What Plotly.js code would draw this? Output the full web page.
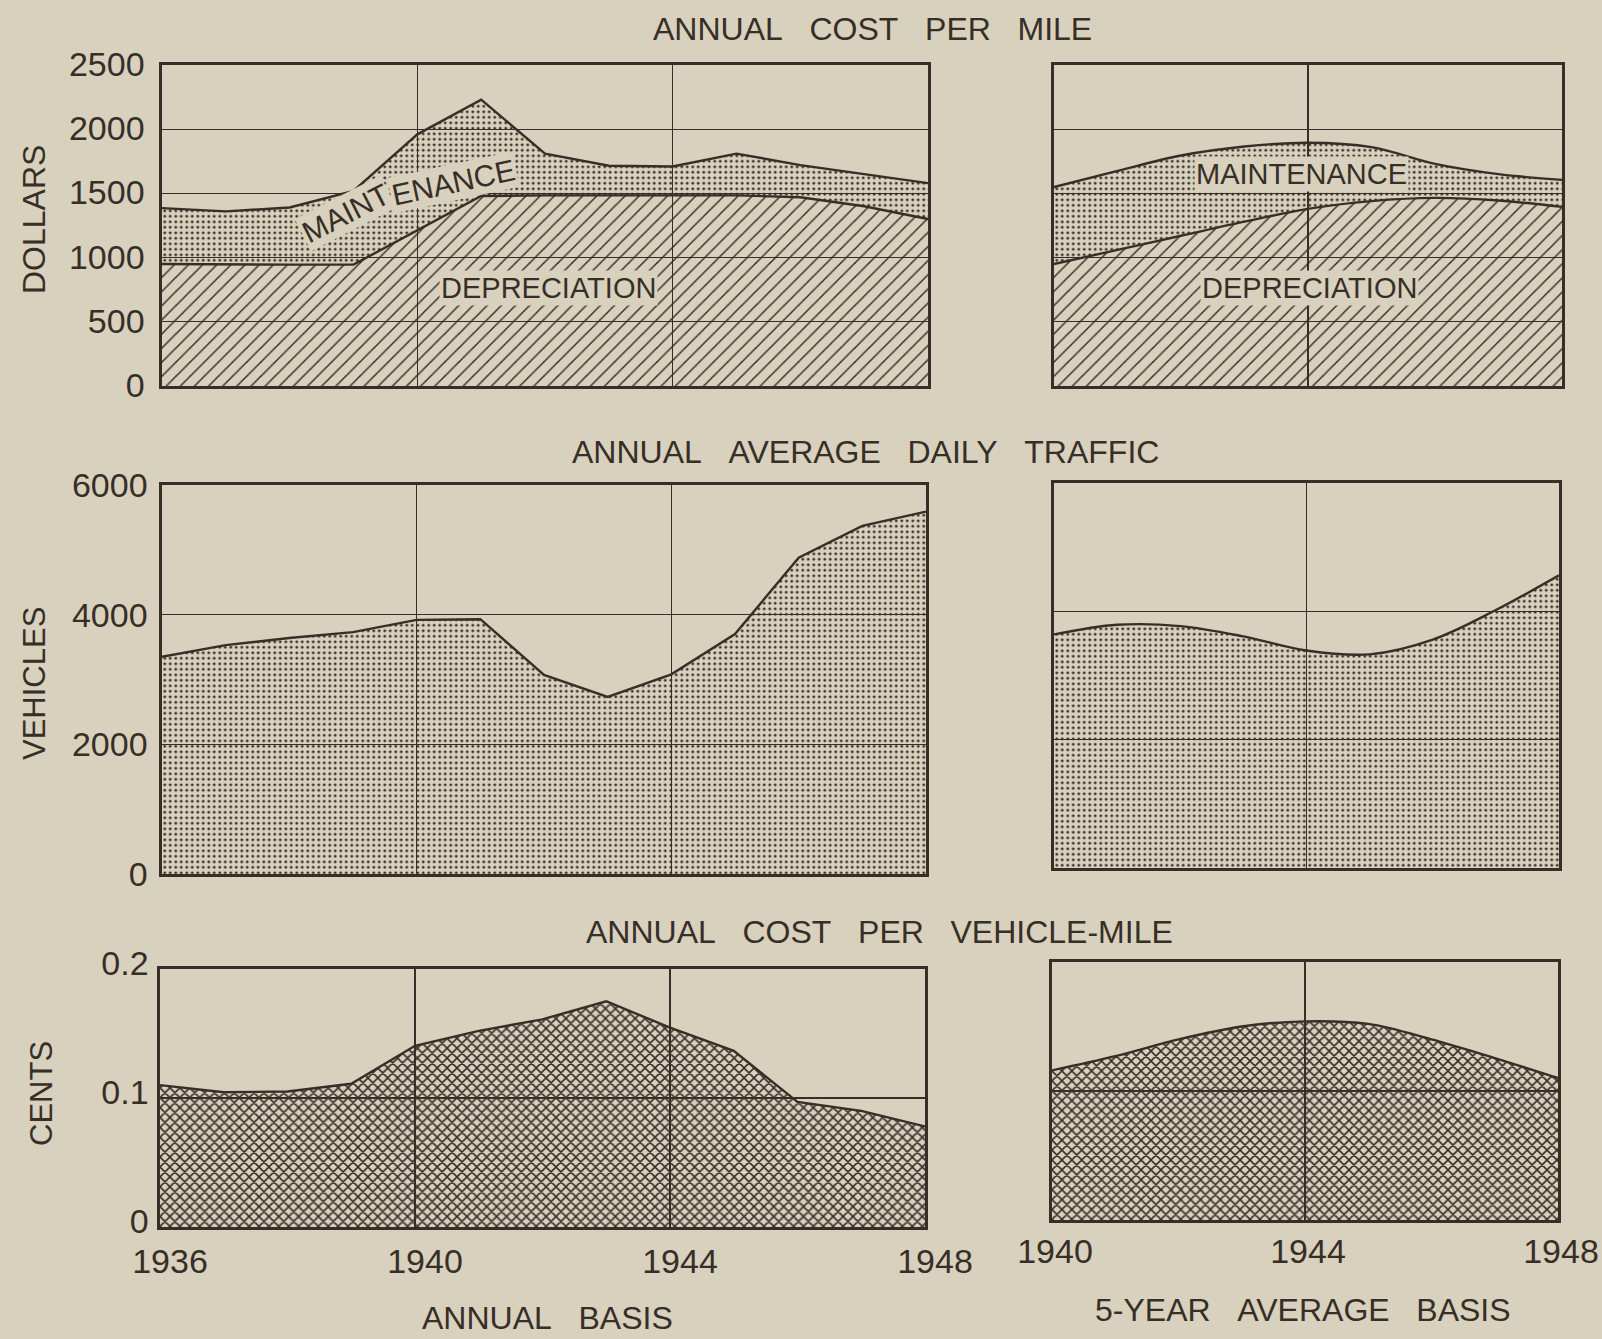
<!DOCTYPE html>
<html>
<head>
<meta charset="utf-8">
<script src="https://cdn.plot.ly/plotly-3.0.1.min.js"></script>
<style>
  html, body { margin: 0; padding: 0; background: #d8d1bd; }
  #chart { width: 1602px; height: 1339px; }
</style>
</head>
<body>
<div id="chart"></div>
<script>
// ---------- DATA ----------
const yearsAnnual = [1936, 1937, 1938, 1939, 1940, 1941, 1942, 1943, 1944, 1945, 1946, 1947, 1948];
const years5yr = [1940, 1941, 1942, 1943, 1944, 1945, 1946, 1947, 1948];

// Annual cost per mile (dollars), annual basis
const depreciationAnnual = [950, 945, 945, 945, 1210, 1480, 1485, 1485, 1485, 1485, 1470, 1400, 1300];
const maintenanceAnnual  = [435, 415, 445, 575, 750, 750, 325, 230, 225, 325, 250, 250, 280];

// Annual cost per mile (dollars), 5-year average basis
const depreciation5yr = [950, 1060, 1170, 1280, 1380, 1440, 1465, 1445, 1395];
const maintenance5yr  = [600, 615, 625, 585, 515, 420, 265, 205, 210];

// Annual average daily traffic (vehicles)
const trafficAnnual = [3350, 3530, 3640, 3730, 3920, 3930, 3070, 2730, 3080, 3700, 4880, 5370, 5590];
const traffic5yr    = [3640, 3790, 3770, 3610, 3390, 3330, 3560, 4020, 4560];

// Annual cost per vehicle-mile (cents)
const costVehMileAnnual = [0.110, 0.1045, 0.105, 0.111, 0.1405, 0.152, 0.161, 0.175, 0.1545, 0.1365, 0.097, 0.090, 0.078];
const costVehMile5yr    = [0.116, 0.127, 0.140, 0.150, 0.154, 0.152, 0.140, 0.1255, 0.110];

// Tick values / labels
const xTicksAnnual = [1936, 1940, 1944, 1948];
const xTicks5yr = [1940, 1944, 1948];
const dollarTicks = [0, 500, 1000, 1500, 2000, 2500];
const dollarLabels = ['0', '500', '1000', '1500', '2000', '2500'];
const vehicleTicks = [0, 2000, 4000, 6000];
const vehicleLabels = ['0', '2000', '4000', '6000'];
const centTicks = [0, 0.1, 0.2];
const centLabels = ['0', '0.1', '0.2'];

// ---------- STYLE ----------
const INK = '#372f27';
const BG = '#d8d1bd';
const FONT = 'Liberation Sans, Arial, sans-serif';
const NB = '\u00A0\u00A0\u00A0';

const hatch = {shape: '/', size: 10, solidity: 0.15, fgcolor: INK, bgcolor: 'rgba(0,0,0,0)'};
const dots  = {shape: '.', size: 5.5, solidity: 0.22, fgcolor: INK, bgcolor: 'rgba(0,0,0,0)'};
const cross = {shape: 'x', size: 7, solidity: 0.4, fgcolor: INK, bgcolor: 'rgba(0,0,0,0)'};
const lineStyle = {color: INK, width: 2.4};
const splineStyle = {color: INK, width: 2.4, shape: 'spline', smoothing: 1};

function tr(x, y, xa, ya, pattern, line, stack) {
  const t = {
    x: x, y: y, xaxis: xa, yaxis: ya, type: 'scatter', mode: 'lines',
    line: line, fillcolor: 'rgba(0,0,0,0)', fillpattern: pattern,
    hoverinfo: 'skip', showlegend: false
  };
  if (stack) { t.stackgroup = stack; } else { t.fill = 'tozeroy'; }
  return t;
}

const data = [
  tr(yearsAnnual, depreciationAnnual, 'x', 'y', hatch, lineStyle, 'a'),
  tr(yearsAnnual, maintenanceAnnual, 'x', 'y', dots, lineStyle, 'a'),
  tr(years5yr, depreciation5yr, 'x2', 'y2', hatch, splineStyle, 'b'),
  tr(years5yr, maintenance5yr, 'x2', 'y2', dots, splineStyle, 'b'),
  tr(yearsAnnual, trafficAnnual, 'x3', 'y3', dots, lineStyle, null),
  tr(years5yr, traffic5yr, 'x4', 'y4', dots, splineStyle, null),
  tr(yearsAnnual, costVehMileAnnual, 'x5', 'y5', cross, lineStyle, null),
  tr(years5yr, costVehMile5yr, 'x6', 'y6', cross, splineStyle, null)
];

const W = 1602, H = 1339;
function dx(a, b) { return [a / W, b / W]; }
function dy(top, bottom) { return [1 - bottom / H, 1 - top / H]; }

function xAxis(domain, range, ticks, anchor, showLabels, shift, standoff) {
  return {
    domain: domain, range: range, anchor: anchor,
    tickmode: 'array', tickvals: ticks, ticktext: ticks.map(String),
    showticklabels: showLabels, ticks: '',
    ticklabelshift: shift || 0, ticklabelstandoff: standoff || 0,
    tickfont: {family: FONT, size: 34, color: INK},
    showgrid: true, gridcolor: INK, gridwidth: 1.3,
    showline: true, linecolor: INK, linewidth: 2.6, mirror: true,
    zeroline: false, fixedrange: true
  };
}
function yAxis(domain, range, ticks, labels, anchor, showLabels, standoff, shift) {
  return {
    domain: domain, range: range, anchor: anchor,
    tickmode: 'array', tickvals: ticks, ticktext: labels,
    showticklabels: showLabels, ticks: '',
    ticklabelstandoff: standoff || 0, ticklabelshift: shift || 0,
    tickfont: {family: FONT, size: 34, color: INK},
    showgrid: true, gridcolor: INK, gridwidth: 1.3,
    showline: true, linecolor: INK, linewidth: 2.6, mirror: true,
    zeroline: false, fixedrange: true
  };
}

function txt(text, x, y, size, extra) {
  return Object.assign({
    text: text, x: x, y: y, xref: 'paper', yref: 'paper',
    xanchor: 'center', yanchor: 'middle', showarrow: false,
    font: {family: FONT, size: size, color: INK}
  }, extra || {});
}
function label(text, x, y, xr, yr, angle, size) {
  return {
    text: text, x: x, y: y, xref: xr, yref: yr,
    xanchor: 'center', yanchor: 'middle', showarrow: false,
    textangle: angle || 0, bgcolor: BG, borderpad: 1,
    font: {family: FONT, size: size || 29, color: INK}
  };
}

const layout = {
  width: W, height: H,
  paper_bgcolor: BG, plot_bgcolor: BG,
  margin: {l: 0, r: 0, t: 0, b: 0},
  showlegend: false,
  xaxis:  xAxis(dx(162, 928), [1936, 1948], xTicksAnnual, 'y', false),
  yaxis:  yAxis(dy(65, 386), [0, 2500], dollarTicks, dollarLabels, 'x', true, 8, -1),
  xaxis2: xAxis(dx(1054, 1562), [1940, 1948], xTicks5yr, 'y2', false),
  yaxis2: yAxis(dy(65, 386), [0, 2500], dollarTicks, dollarLabels, 'x2', false),
  xaxis3: xAxis(dx(162, 926), [1936, 1948], xTicksAnnual, 'y3', false),
  yaxis3: yAxis(dy(485, 874), [0, 6000], vehicleTicks, vehicleLabels, 'x3', true, 5, 0),
  xaxis4: xAxis(dx(1054, 1559), [1940, 1948], xTicks5yr, 'y4', false),
  yaxis4: yAxis(dy(483, 868), [0, 6000], vehicleTicks, vehicleLabels, 'x4', false),
  xaxis5: xAxis(dx(160, 925), [1936, 1948], xTicksAnnual, 'y5', true, 10, 3),
  yaxis5: yAxis(dy(969, 1227), [0, 0.2], centTicks, centLabels, 'x5', true, 2, -6),
  xaxis6: xAxis(dx(1052, 1558), [1940, 1948], xTicks5yr, 'y6', true, 3, 0),
  yaxis6: yAxis(dy(962, 1220), [0, 0.2], centTicks, centLabels, 'x6', false),
  annotations: [
    txt('ANNUAL' + NB + 'COST' + NB + 'PER' + NB + 'MILE', 872 / W, 1 - 29 / H, 32),
    txt('ANNUAL' + NB + 'AVERAGE' + NB + 'DAILY' + NB + 'TRAFFIC', 865 / W, 1 - 452 / H, 32),
    txt('ANNUAL' + NB + 'COST' + NB + 'PER' + NB + 'VEHICLE-MILE', 879 / W, 1 - 932 / H, 32),
    txt('ANNUAL' + NB + 'BASIS', 547 / W, 1 - 1318 / H, 32),
    txt('5-YEAR' + NB + 'AVERAGE' + NB + 'BASIS', 1303 / W, 1 - 1310 / H, 32),
    txt('DOLLARS', 34 / W, 1 - 220 / H, 32, {textangle: -90}),
    txt('VEHICLES', 34 / W, 1 - 684 / H, 31, {textangle: -90}),
    txt('CENTS', 41 / W, 1 - 1094 / H, 31, {textangle: -90}),
    label('MAINT', 1938.87, 1347, 'x', 'y', -27, 30),
    label('ENANCE', 1940.56, 1581, 'x', 'y', -12, 30),
    label('DEPRECIATION', 1942.06, 763, 'x', 'y', 0),
    label('MAINTENANCE', 1943.9, 1651, 'x2', 'y2', 0),
    label('DEPRECIATION', 1944.03, 763, 'x2', 'y2', 0)
  ]
};

Plotly.newPlot('chart', data, layout, {displayModeBar: false, staticPlot: true});
</script>
</body>
</html>
